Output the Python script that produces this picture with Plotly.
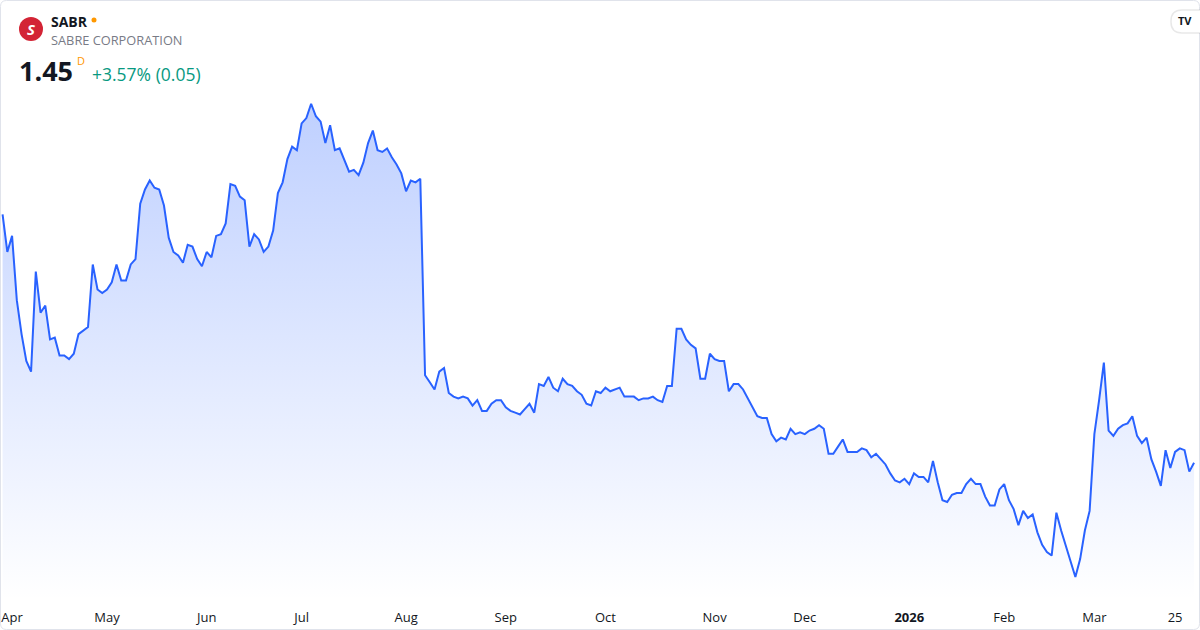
import pandas as pd
import plotly.graph_objects as go

# trading calendar (NYSE holidays skipped)
holidays = ["2025-04-18", "2025-05-26", "2025-06-19", "2025-07-04", "2025-09-01",
            "2025-11-27", "2025-12-25", "2026-01-01", "2026-01-19", "2026-02-16"]
dates = [d.strftime("%Y-%m-%d") for d in pd.bdate_range("2025-03-31", "2026-03-31")
         if d.strftime("%Y-%m-%d") not in holidays]

# daily close, SABR
prices = [
    2.84, 2.63, 2.72, 2.36, 2.17, 2.02, 1.96, 2.52, 2.29, 2.33,
    2.14, 2.15, 2.05, 2.05, 2.03, 2.06, 2.17, 2.19, 2.21, 2.56,
    2.42, 2.40, 2.42, 2.46, 2.56, 2.47, 2.47, 2.56, 2.59, 2.90,
    2.98, 3.03, 2.99, 2.98, 2.89, 2.71, 2.63, 2.61, 2.57, 2.67,
    2.66, 2.59, 2.55, 2.63, 2.60, 2.72, 2.73, 2.79, 3.01, 3.00,
    2.94, 2.92, 2.66, 2.73, 2.70, 2.63, 2.66, 2.75, 2.96, 3.02,
    3.15, 3.22, 3.20, 3.35, 3.38, 3.46, 3.39, 3.36, 3.24, 3.34,
    3.20, 3.21, 3.14, 3.08, 3.09, 3.06, 3.13, 3.24, 3.31, 3.20,
    3.19, 3.21, 3.16, 3.12, 3.07, 2.97, 3.03, 3.02, 3.04, 1.94,
    1.90, 1.86, 1.96, 1.98, 1.84, 1.82, 1.81, 1.82, 1.81, 1.77,
    1.80, 1.74, 1.74, 1.78, 1.80, 1.80, 1.76, 1.74, 1.73, 1.72,
    1.75, 1.78, 1.73, 1.89, 1.88, 1.93, 1.87, 1.85, 1.92, 1.89,
    1.88, 1.85, 1.83, 1.78, 1.77, 1.85, 1.84, 1.87, 1.85, 1.86,
    1.87, 1.82, 1.82, 1.82, 1.80, 1.81, 1.81, 1.82, 1.80, 1.79,
    1.88, 1.88, 2.20, 2.20, 2.14, 2.11, 2.09, 1.92, 1.92, 2.06,
    2.03, 2.02, 2.02, 1.85, 1.89, 1.89, 1.86, 1.81, 1.76, 1.71,
    1.70, 1.70, 1.61, 1.57, 1.59, 1.58, 1.64, 1.61, 1.62, 1.61,
    1.63, 1.64, 1.66, 1.64, 1.50, 1.50, 1.54, 1.58, 1.51, 1.51,
    1.51, 1.53, 1.52, 1.48, 1.50, 1.47, 1.44, 1.39, 1.35, 1.34,
    1.36, 1.33, 1.39, 1.37, 1.37, 1.34, 1.46, 1.34, 1.24, 1.23,
    1.27, 1.28, 1.28, 1.33, 1.36, 1.33, 1.33, 1.26, 1.21, 1.21,
    1.30, 1.33, 1.24, 1.19, 1.10, 1.18, 1.14, 1.16, 1.06, 0.99,
    0.95, 0.93, 1.17, 1.07, 0.98, 0.89, 0.81, 0.91, 1.07, 1.18,
    1.61, 1.80, 2.01, 1.63, 1.60, 1.64, 1.66, 1.67, 1.71, 1.60,
    1.56, 1.59, 1.47, 1.40, 1.32, 1.52, 1.42, 1.51, 1.53, 1.52,
    1.40, 1.45,
]

tick_dates = ["2025-04-02", "2025-05-01", "2025-06-02", "2025-07-01", "2025-08-01",
              "2025-09-02", "2025-10-01", "2025-11-03", "2025-12-01", "2026-01-02",
              "2026-02-02", "2026-03-02", "2026-03-25"]
tick_labels = ["Apr", "May", "Jun", "Jul", "Aug", "Sep", "Oct", "Nov", "Dec",
               "<b>2026</b>", "Feb", "Mar", "25"]

W, H = 1200, 630
M = dict(l=1, r=4, t=90, b=30, pad=0)
FONT = "Open Sans, Noto Sans, sans-serif"


def px(x):
    return (x - M["l"]) / (W - M["l"] - M["r"])


def py(y):
    return 1 - (y - M["t"]) / (H - M["t"] - M["b"])


def rounded(x0, y0, x1, y1, r):
    # rounded rectangle in page pixels -> paper-coordinate svg path
    pts = [
        ("M", [(x0 + r, y0)]), ("L", [(x1 - r, y0)]), ("Q", [(x1, y0), (x1, y0 + r)]),
        ("L", [(x1, y1 - r)]), ("Q", [(x1, y1), (x1 - r, y1)]), ("L", [(x0 + r, y1)]),
        ("Q", [(x0, y1), (x0, y1 - r)]), ("L", [(x0, y0 + r)]),
        ("Q", [(x0, y0), (x0 + r, y0)]),
    ]
    return " ".join(cmd + " " + " ".join(f"{px(x)},{py(y)}" for x, y in xy)
                    for cmd, xy in pts) + " Z"


fig = go.Figure()
fig.add_trace(go.Scatter(
    x=dates, y=prices, mode="lines",
    line=dict(color="#2962ff", width=2),
    fill="tozeroy",
    fillgradient=dict(type="vertical",
                      colorscale=[[0, "rgba(41,98,255,0)"], [1, "rgba(41,98,255,0.3)"]],
                      start=0.68, stop=max(prices)),
    hoverinfo="skip",
))

shapes = [
    dict(type="path", path=rounded(0.5, 0.5, 1199.5, 629.5, 6),
         line=dict(color="#e0e3eb", width=1)),
    dict(type="circle", x0=px(19), x1=px(43), y0=py(41), y1=py(17),
         fillcolor="#d32435", line=dict(width=0)),
    dict(type="circle", x0=px(91.5), x1=px(96.5), y0=py(22.5), y1=py(17.5),
         fillcolor="#ff9800", line=dict(width=0)),
    dict(type="path", path=rounded(1171, 10, 1214, 33, 11),
         fillcolor="white", line=dict(color="rgba(0,0,0,0.09)", width=1.5)),
]
for s in shapes:
    s.update(xref="paper", yref="paper", layer="above")

notes = [
    dict(x=px(31), y=py(29), text="<b><i>S</i></b>", size=15, color="white", xanchor="center"),
    dict(x=px(50), y=py(21), text="<b>SABR</b>", size=14, color="#131722"),
    dict(x=px(50), y=py(40.5), text="SABRE CORPORATION", size=12.8, color="#787b86"),
    dict(x=px(18), y=py(71), text="<b>1.45</b>", size=27, color="#131722"),
    dict(x=px(80.5), y=py(61), text="D", size=11, color="#ff9800", xanchor="center"),
    dict(x=px(91), y=py(74), text="+3.57% (0.05)", size=17.5, color="#089981"),
    dict(x=px(1185), y=py(20.5), text="<b>TV</b>", size=11, color="#131722", xanchor="center"),
]
fig.update_layout(annotations=[
    dict(x=n["x"], y=n["y"], xref="paper", yref="paper", text=n["text"], showarrow=False,
         xanchor=n.get("xanchor", "left"), yanchor="middle", borderpad=0,
         font=dict(family=FONT, size=n["size"], color=n["color"]))
    for n in notes
])

fig.update_layout(
    width=W, height=H, margin=M, shapes=shapes,
    paper_bgcolor="white", plot_bgcolor="white", showlegend=False,
    font=dict(family=FONT, color="#131722"),
    xaxis=dict(type="category", range=[-0.331, 251.41], tickvals=tick_dates,
               ticktext=tick_labels, showgrid=False, zeroline=False, showline=False,
               ticks="", ticklabelstandoff=8, tickfont=dict(size=13, color="#131722"),
               fixedrange=True),
    yaxis=dict(visible=False, range=[0.681, 3.537], fixedrange=True),
)

fig.write_html("out.html", config={"displayModeBar": False},
               post_script="document.body.style.margin = '0';")
